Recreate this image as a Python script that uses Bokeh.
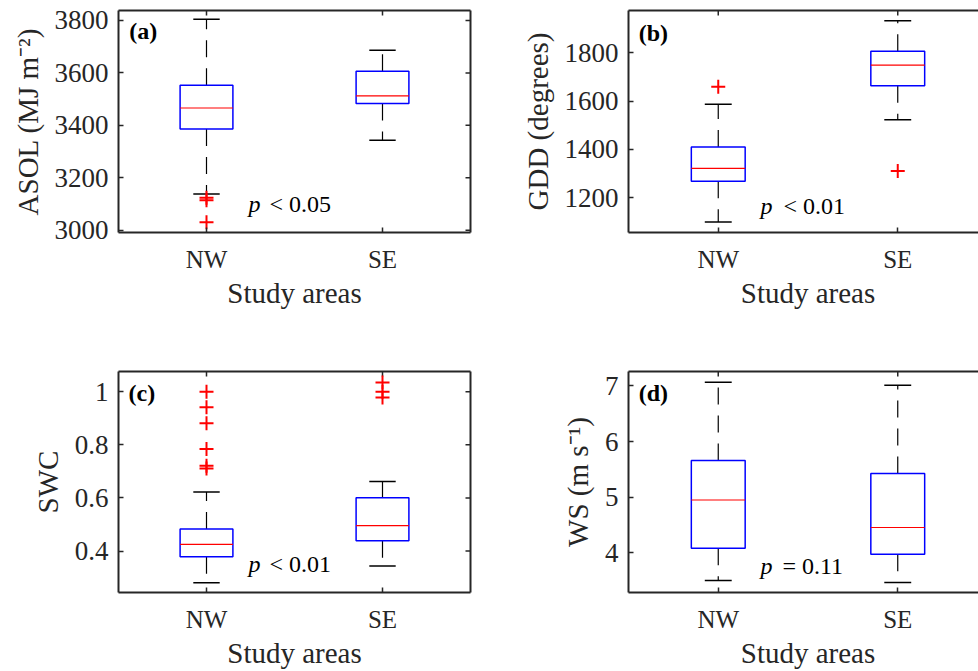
import numpy as np
from bokeh.plotting import figure
from bokeh.models import Range1d, LinearAxis, FixedTicker, Label
from bokeh.layouts import column, row
from bokeh.embed import file_html
from bokeh.resources import INLINE

# ---------------- data ----------------
areas = ["NW", "SE"]
positions = [1, 2]

# (a) ASOL
asol_upper = [3805, 3686]
asol_q3 = [3553, 3606]
asol_med = [3466, 3512]
asol_q1 = [3386, 3483]
asol_lower = [3138, 3343]
asol_out_area = ["NW", "NW", "NW"]
asol_out_val = [3114, 3124, 3030]
asol_yticks = [3000, 3200, 3400, 3600, 3800]

# (b) GDD
gdd_upper = [1588, 1934]
gdd_q3 = [1410, 1807]
gdd_med = [1322, 1750]
gdd_q1 = [1268, 1664]
gdd_lower = [1099, 1523]
gdd_out_area = ["NW", "SE"]
gdd_out_val = [1660, 1311]
gdd_yticks = [1200, 1400, 1600, 1800]

# (c) SWC
swc_upper = [0.622, 0.662]
swc_q3 = [0.483, 0.601]
swc_med = [0.425, 0.496]
swc_q1 = [0.379, 0.439]
swc_lower = [0.281, 0.344]
swc_out_area = ["NW", "NW", "NW", "NW", "NW", "NW", "SE", "SE", "SE"]
swc_out_val = [1.0, 0.941, 0.881, 0.784, 0.721, 0.711, 1.035, 1.0, 0.978]
swc_yticks = [0.4, 0.6, 0.8, 1.0]

# (d) WS
ws_upper = [7.065, 7.012]
ws_q3 = [5.661, 5.429]
ws_med = [4.952, 4.458]
ws_q1 = [4.083, 3.976]
ws_lower = [3.506, 3.47]
ws_out_area = []
ws_out_val = []
ws_yticks = [4, 5, 6, 7]

FONT = "Liberation Serif"
AX = "#262626"
BOX_W = 0.30
CAP_W = 0.15


def style_axis(ax, tick_size="25px"):
    ax.axis_line_color = AX
    ax.axis_line_width = 2
    ax.major_tick_in = 5
    ax.major_tick_out = 0
    ax.major_tick_line_color = AX
    ax.major_tick_line_width = 1.5
    ax.minor_tick_line_color = None
    ax.major_label_text_font = FONT
    ax.major_label_text_font_size = tick_size
    ax.major_label_text_color = AX
    ax.axis_label_text_font = FONT
    ax.axis_label_text_font_size = "29px"
    ax.axis_label_text_font_style = "normal"
    ax.axis_label_text_color = AX


def panel(tag, ylabel, yrange, yticks, upper, q3, med, q1, lower,
          out_area, out_val, ptxt, p_xy, p_off, tag_xy,
          width, height, mbl, mbr, mbt, mbb, overrides=None):
    xend = 2.5
    p = figure(width=width, height=height, x_range=Range1d(0.5, xend),
               y_range=Range1d(*yrange), output_backend="svg",
               toolbar_location=None, x_axis_location=None,
               y_axis_location=None, min_border_left=mbl,
               min_border_right=mbr, min_border_top=mbt,
               min_border_bottom=mbb)
    p.outline_line_color = None
    p.background_fill_color = "white"
    p.border_fill_color = "white"
    for g in p.grid:
        g.visible = False

    xt = FixedTicker(ticks=positions)
    yt = FixedTicker(ticks=yticks)

    xb = LinearAxis(ticker=xt, axis_label="Study areas")
    xb.major_label_overrides = {pos: a for pos, a in zip(positions, areas)}
    style_axis(xb, "25px")
    xb.major_label_standoff = 13
    xb.axis_label_standoff = 1
    p.add_layout(xb, "below")

    yl = LinearAxis(ticker=yt, axis_label=ylabel)
    if overrides:
        yl.major_label_overrides = overrides
    style_axis(yl, "27px")
    yl.major_label_standoff = 10
    yl.axis_label_standoff = 8
    p.add_layout(yl, "left")

    # box lines on top / right (no labels), ticks drawn as short rays
    xa = LinearAxis(ticker=FixedTicker(ticks=[]))
    style_axis(xa)
    p.add_layout(xa, "above")
    p.ray(x=positions, y=[yrange[1]] * len(positions), length=5,
          length_units="screen", angle=-np.pi / 2, line_color=AX,
          line_width=1.5)

    yr = LinearAxis(ticker=FixedTicker(ticks=[]))
    style_axis(yr)
    p.add_layout(yr, "right")
    p.ray(x=[xend] * len(yticks), y=yticks, length=5,
          length_units="screen", angle=np.pi, line_color=AX,
          line_width=1.5)

    x = np.array(positions, dtype=float)
    up = np.array(upper); hi = np.array(q3); md = np.array(med)
    lo = np.array(q1); lw = np.array(lower)

    # whiskers
    p.segment(x0=x, y0=hi, x1=x, y1=up, line_color="black",
              line_width=1.2, line_dash="17 11")
    p.segment(x0=x, y0=lo, x1=x, y1=lw, line_color="black",
              line_width=1.2, line_dash="17 11")
    # caps
    p.segment(x0=x - CAP_W / 2, y0=up, x1=x + CAP_W / 2, y1=up,
              line_color="black", line_width=1.5)
    p.segment(x0=x - CAP_W / 2, y0=lw, x1=x + CAP_W / 2, y1=lw,
              line_color="black", line_width=1.5)
    # boxes
    p.vbar(x=x, width=BOX_W, bottom=lo, top=hi, fill_color="white",
           line_color="#0000ff", line_width=1.5)
    # medians
    p.segment(x0=x - BOX_W / 2, y0=md, x1=x + BOX_W / 2, y1=md,
              line_color="#ff0000", line_width=1.2)
    # outliers
    if out_val:
        ox = [positions[areas.index(a)] for a in out_area]
        p.scatter(x=ox, y=out_val, marker="cross", size=14,
                  line_color="#ff0000", line_width=2)

    p.add_layout(Label(x=tag_xy[0], y=tag_xy[1], text=tag,
                       text_font=FONT, text_font_size="24px",
                       text_font_style="bold", text_color="black",
                       text_baseline="alphabetic"))
    p.add_layout(Label(x=p_xy[0], y=p_xy[1], text="p",
                       text_font=FONT, text_font_size="24px",
                       text_font_style="italic", text_color="black",
                       text_baseline="alphabetic"))
    p.add_layout(Label(x=p_xy[0], y=p_xy[1], x_offset=p_off, text=ptxt,
                       text_font=FONT, text_font_size="24px",
                       text_color="black", text_baseline="alphabetic"))
    return p


W1, W2 = 490, 517
H1, H2 = 330, 341

pa = panel("(a)", "ASOL (MJ m\u207b\u00b2)", (2991, 3838), asol_yticks,
           asol_upper, asol_q3, asol_med, asol_q1, asol_lower,
           asol_out_area, asol_out_val, "< 0.05", (1.238, 3100), 21,
           (0.561, 3758), W1, H1, 118, 20, 10, 98)
pb = panel("(b)", "GDD (degrees)", (1056, 1976), gdd_yticks,
           gdd_upper, gdd_q3, gdd_med, gdd_q1, gdd_lower,
           gdd_out_area, gdd_out_val, "< 0.01", (1.235, 1167), 23,
           (0.557, 1884), W2, H1, 138, 20, 10, 98)
pc = panel("(c)", "SWC", (0.244, 1.076), swc_yticks,
           swc_upper, swc_q3, swc_med, swc_q1, swc_lower,
           swc_out_area, swc_out_val, "< 0.01", (1.238, 0.35), 21,
           (0.557, 0.994), W1, H2, 118, 20, 41, 78,
           overrides={1: "1"})
pd_ = panel("(d)", "WS (m s\u207b\u00b9)", (3.29, 7.26), ws_yticks,
            ws_upper, ws_q3, ws_med, ws_q1, ws_lower,
            ws_out_area, ws_out_val, "=  0.11", (1.235, 3.763), 22,
            (0.557, 6.873), W2, H2, 138, 20, 41, 78)

layout = column(row(pa, pb), row(pc, pd_), width=978, height=671,
                styles={"overflow": "hidden"})

open("out.html", "w").write(file_html(layout, INLINE))
